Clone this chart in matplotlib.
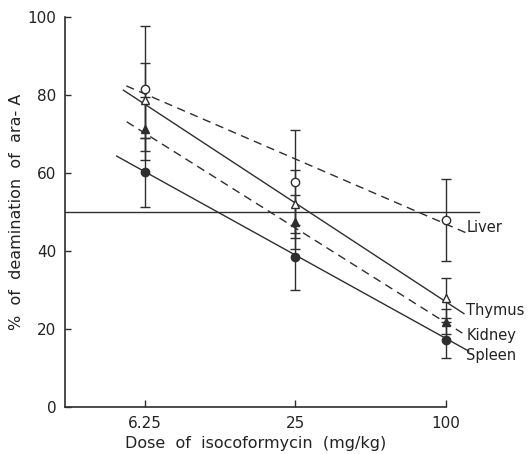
import matplotlib
matplotlib.use("Agg")
import matplotlib.pyplot as plt
from matplotlib.ticker import FixedLocator, FixedFormatter, NullLocator

# ---- data ----
doses = [6.25, 25, 100]
dose_labels = ["6.25", "25", "100"]
tissues = ["Liver", "Thymus", "Kidney", "Spleen"]

liver = [81.7, 57.8, 48.1]
thymus = [78.7, 52.1, 28.0]
kidney = [71.4, 47.5, 21.9]
spleen = [60.2, 38.4, 17.2]

liver_err = [16.0, 13.2, 10.5]
thymus_err = [9.6, 8.7, 5.2]
kidney_err = [8.1, 6.8, 3.2]
spleen_err = [8.8, 8.4, 4.7]

# regression lines (dose, % at line start and end)
liver_fit_dose = [5.28, 120]
liver_fit = [82.4, 44.8]
thymus_fit_dose = [5.14, 118.4]
thymus_fit = [81.3, 24.0]
kidney_fit_dose = [5.3, 116.7]
kidney_fit = [73.2, 19.0]
spleen_fit_dose = [4.83, 123.7]
spleen_fit = [64.4, 14.4]

reference_level = 50
reference_dose_end = 135.7

label_y = [46.2, 24.9, 18.3, 13.2]
label_dose = 121.0

y_ticks = [0, 20, 40, 60, 80, 100]

# ---- figure ----
ink = "#2e2e2e"
fig = plt.figure(figsize=(5.28, 4.54), dpi=100)
ax = fig.add_axes([0.123, 0.103, 0.722, 0.859])
ax.set_xscale("log")
ax.set_xlim(3.0, 100.5)
ax.set_ylim(0, 100)

series = [
    (liver, liver_err, liver_fit_dose, liver_fit, "o", "white", (0, (6, 4))),
    (thymus, thymus_err, thymus_fit_dose, thymus_fit, "^", "white", "-"),
    (kidney, kidney_err, kidney_fit_dose, kidney_fit, "^", ink, (0, (6, 4))),
    (spleen, spleen_err, spleen_fit_dose, spleen_fit, "o", ink, "-"),
]

for vals, errs, fd, fv, mk, fc, ls in series:
    eb = ax.errorbar(doses, vals, yerr=errs, fmt="none", ecolor=ink,
                     elinewidth=1.0, capsize=3.6, capthick=1.0, zorder=2)
    for art in list(eb.lines[1]) + list(eb.lines[2]):
        art.set_clip_on(False)
    ax.plot(fd, fv, color=ink, lw=1.0, linestyle=ls, clip_on=False, zorder=3)
    ax.plot(doses, vals, linestyle="none", marker=mk, markersize=6,
            markerfacecolor=fc, markeredgecolor=ink, markeredgewidth=1.0,
            zorder=4, clip_on=False)

ax.plot([3.0, reference_dose_end], [reference_level, reference_level],
        color=ink, lw=1.0, clip_on=False, zorder=1)

for name, yv in zip(tissues, label_y):
    ax.text(label_dose, yv, name, ha="left", va="center", fontsize=10.5,
            color="#222222", fontweight="medium", clip_on=False)

for s in ["top", "right"]:
    ax.spines[s].set_visible(False)
for s in ["left", "bottom"]:
    ax.spines[s].set_color(ink)
    ax.spines[s].set_linewidth(1.2)

ax.xaxis.set_major_locator(FixedLocator(doses))
ax.xaxis.set_major_formatter(FixedFormatter(dose_labels))
ax.xaxis.set_minor_locator(NullLocator())
ax.set_yticks(y_ticks)
ax.set_yticklabels([str(v) for v in y_ticks])

ax.tick_params(axis="x", direction="in", length=5, width=1.0, colors=ink,
               labelsize=11, pad=6, labelcolor="#222222")
ax.tick_params(axis="y", direction="in", length=4, width=1.0, colors=ink,
               labelsize=11, pad=6, labelcolor="#222222")

ax.set_xlabel("Dose  of  isocoformycin  (mg/kg)", fontsize=11.5,
              color="#222222", labelpad=4)
ax.set_ylabel("%  of  deamination  of  ara- A", fontsize=11.5,
              color="#222222", labelpad=3)

fig.savefig("out.png", dpi=100)
